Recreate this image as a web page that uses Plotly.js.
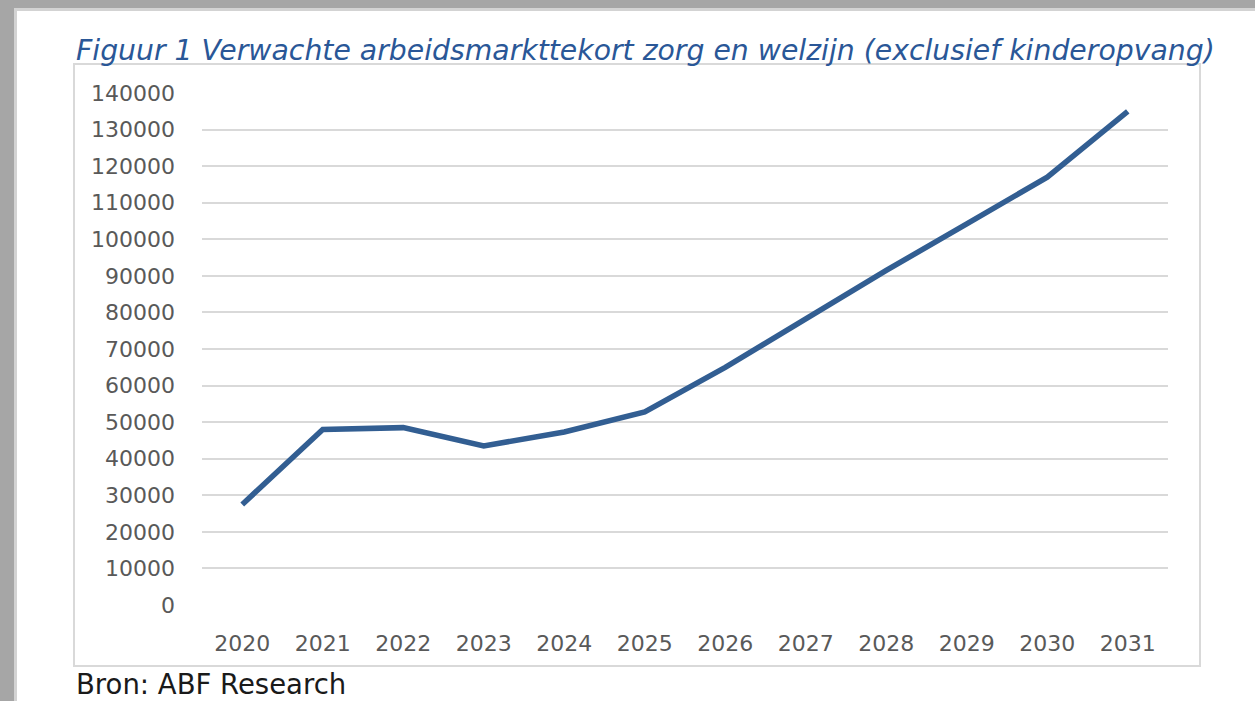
<!DOCTYPE html>
<html>
<head>
<meta charset="utf-8">
<script src="https://cdn.plot.ly/plotly-3.0.1.min.js"></script>
<style>html,body{margin:0;padding:0;background:#fff;}#chart{width:1255px;height:701px;}</style>
</head>
<body>
<div id="chart"></div>
<script>
const years = ["2020","2021","2022","2023","2024","2025","2026","2027","2028","2029","2030","2031"];
const tekort = [27500, 48000, 48500, 43500, 47300, 52800, 65000, 78400, 91500, 104200, 117000, 135000];
const yTicks = [0,10000,20000,30000,40000,50000,60000,70000,80000,90000,100000,110000,120000,130000,140000];
const titleText = "Figuur 1 Verwachte arbeidsmarkttekort zorg en welzijn (exclusief kinderopvang)";
const sourceText = "Bron: ABF Research";

const W = 1255, H = 701;
const L = 202, R = 1168, T = 93, B = 605;
const px = x => (x - L) / (R - L);
const py = y => (B - y) / (B - T);

const trace = {
  x: years, y: tekort, type: 'scatter', mode: 'lines',
  line: {color: '#325E92', width: 5.5}, hoverinfo: 'skip'
};

const shapes = [
  {type:'rect', xref:'paper', yref:'paper', x0:px(0), x1:px(W), y0:py(0), y1:py(8), fillcolor:'#A6A6A6', line:{width:0}, layer:'below'},
  {type:'rect', xref:'paper', yref:'paper', x0:px(0), x1:px(W), y0:py(8), y1:py(11), fillcolor:'#D3D3D3', line:{width:0}, layer:'below'},
  {type:'rect', xref:'paper', yref:'paper', x0:px(0), x1:px(14), y0:py(0), y1:py(H), fillcolor:'#A6A6A6', line:{width:0}, layer:'below'},
  {type:'rect', xref:'paper', yref:'paper', x0:px(14), x1:px(17), y0:py(8), y1:py(H), fillcolor:'#D3D3D3', line:{width:0}, layer:'below'},
  {type:'rect', xref:'paper', yref:'paper', x0:px(74), x1:px(1200), y0:py(64), y1:py(666), fillcolor:'rgba(0,0,0,0)', line:{color:'#D9D9D9', width:2}, layer:'below'}
];

const layout = {
  width: W, height: H,
  margin: {l: L, r: W - R, t: T, b: H - B, pad: 0},
  paper_bgcolor: '#FFFFFF', plot_bgcolor: 'rgba(0,0,0,0)',
  showlegend: false,
  font: {family: 'DejaVu Sans, Verdana, sans-serif', color: '#595959', size: 22},
  xaxis: {
    type: 'category', range: [-0.5, 11.5], showgrid: false, zeroline: false,
    showline: false, ticks: '', ticklabelstandoff: 23,
    tickfont: {size: 22, color: '#595959'}, fixedrange: true
  },
  yaxis: {
    range: [0, 140000], tickvals: yTicks, ticktext: yTicks.map(String),
    showgrid: true, gridcolor: '#D9D9D9', gridwidth: 2, zeroline: false,
    showline: false, ticks: '', ticklabelstandoff: 26,
    tickfont: {size: 22, color: '#595959'}, fixedrange: true
  },
  shapes: shapes,
  annotations: [
    {text: titleText, xref:'paper', yref:'paper', x: px(74), y: py(50), xanchor:'left', yanchor:'middle',
     showarrow:false, font:{family:'DejaVu Sans, Verdana, sans-serif', size: 28.3, color:'#2A5797', style:'italic'}},
    {text: sourceText, xref:'paper', yref:'paper', x: px(74), y: py(684), xanchor:'left', yanchor:'middle',
     showarrow:false, font:{family:'DejaVu Sans, Verdana, sans-serif', size: 27.5, color:'#1A1A1A'}}
  ]
};

Plotly.newPlot('chart', [trace], layout, {displayModeBar: false, staticPlot: true});
</script>
</body>
</html>
